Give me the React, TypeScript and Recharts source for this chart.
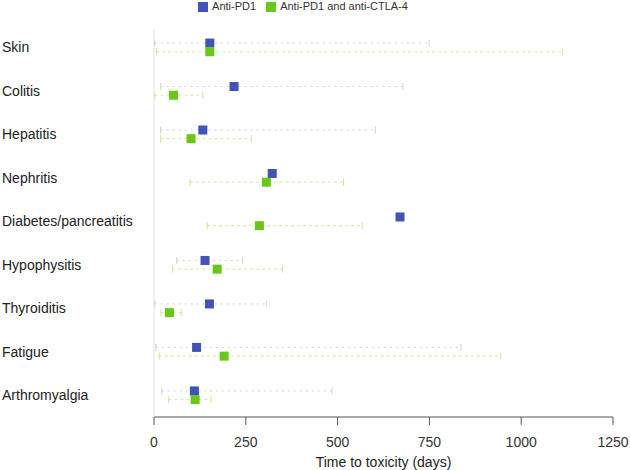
import React from "react";
import {
  ScatterChart, Scatter, XAxis, YAxis, ErrorBar, Legend,
} from "recharts";

const categories = [
  "Skin", "Colitis", "Hepatitis", "Nephritis", "Diabetes/pancreatitis",
  "Hypophysitis", "Thyroiditis", "Fatigue", "Arthromyalgia",
];

// Anti-PD1: median time to toxicity and range (days)
const pd1Median = [152, 218, 133, 322, 670, 139, 151, 116, 110];
const pd1Low = [2, 18, 18, null, null, 62, 2, 5, 21];
const pd1High = [749, 678, 603, null, null, 241, 307, 836, 485];

// Anti-PD1 and anti-CTLA-4
const comboMedian = [152, 53, 101, 306, 287, 172, 42, 191, 112];
const comboLow = [7, 2, 18, 98, 145, 50, 19, 14, 40];
const comboHigh = [1113, 133, 265, 516, 567, 350, 74, 944, 155];

const xTicks = [0, 250, 500, 750, 1000, 1250];

const BLUE = "#4352b6";
const GREEN = "#68c718";
const BLUE_RANGE = "#d2d2d2";
const GREEN_RANGE = "#c4ec8e";
const FONT = "'Liberation Sans', Arial, Helvetica, sans-serif";

const buildPoints = (med: number[], lo: (number | null)[], hi: (number | null)[], shift: number) =>
  med.map((m, i) => ({
    y: i + shift,
    x: m,
    err: lo[i] == null || hi[i] == null ? [0, 0] : [m - (lo[i] as number), (hi[i] as number) - m],
  }));

const buildEnds = (lo: (number | null)[], hi: (number | null)[], shift: number) =>
  lo.flatMap((l, i) =>
    l == null || hi[i] == null ? [] : [{ x: l, y: i + shift }, { x: hi[i] as number, y: i + shift }]
  );

const pd1Points = buildPoints(pd1Median, pd1Low, pd1High, -0.1);
const comboPoints = buildPoints(comboMedian, comboLow, comboHigh, 0.1);
const pd1Ends = buildEnds(pd1Low, pd1High, -0.1);
const comboEnds = buildEnds(comboLow, comboHigh, 0.1);

const square = (color: string) => (props: any) => (
  <rect x={props.cx - 4.5} y={props.cy - 4.5} width={9} height={9} fill={color} />
);

const cap = (color: string) => (props: any) => (
  <line x1={props.cx} x2={props.cx} y1={props.cy - 3.5} y2={props.cy + 3.5} stroke={color} strokeWidth={1} />
);

const CategoryTick = (props: any) => (
  <text x={2} y={props.y} dy="0.35em" textAnchor="start" fontSize={14} fill="#222" fontFamily={FONT}>
    {categories[props.payload.value]}
  </text>
);

export default function App() {
  return (
    <div style={{ position: "absolute", left: 0, top: 0, fontFamily: FONT }}>
      <ScatterChart width={630} height={470} margin={{ top: 30, right: 17, bottom: 0, left: 0 }}>
        <XAxis
          type="number"
          dataKey="x"
          domain={[0, 1250]}
          ticks={xTicks}
          allowDataOverflow
          height={53}
          tickSize={8}
          tickMargin={12}
          stroke="#555"
          tick={{ fontSize: 14, fill: "#333", fontFamily: FONT }}
          label={{ value: "Time to toxicity (days)", position: "insideBottom", offset: 3, fontSize: 14, fill: "#222", fontFamily: FONT }}
        />
        <YAxis
          type="number"
          dataKey="y"
          domain={[-0.4, 8.5]}
          ticks={categories.map((_, i) => i)}
          reversed
          width={154}
          tickLine={false}
          axisLine={{ stroke: "#e2e2e2" }}
          tick={<CategoryTick />}
        />
        <Legend
          verticalAlign="middle"
          align="center"
          iconType="square"
          iconSize={10}
          wrapperStyle={{ top: 0, left: 0, width: 616, fontSize: 11, fontFamily: FONT }}
          formatter={(v: string) => <span style={{ color: "#333" }}>{v}</span>}
        />
        <Scatter data={pd1Ends} shape={cap(BLUE_RANGE)} legendType="none" isAnimationActive={false} />
        <Scatter data={comboEnds} shape={cap(GREEN_RANGE)} legendType="none" isAnimationActive={false} />
        <Scatter name="Anti-PD1" data={pd1Points} fill={BLUE} shape={square(BLUE)} legendType="square" isAnimationActive={false}>
          <ErrorBar dataKey="err" direction="x" width={0} stroke={BLUE_RANGE} strokeWidth={1} strokeDasharray="2 4" isAnimationActive={false} />
        </Scatter>
        <Scatter name="Anti-PD1 and anti-CTLA-4" data={comboPoints} fill={GREEN} shape={square(GREEN)} legendType="square" isAnimationActive={false}>
          <ErrorBar dataKey="err" direction="x" width={0} stroke={GREEN_RANGE} strokeWidth={1} strokeDasharray="2.5 3.5" isAnimationActive={false} />
        </Scatter>
      </ScatterChart>
    </div>
  );
}
